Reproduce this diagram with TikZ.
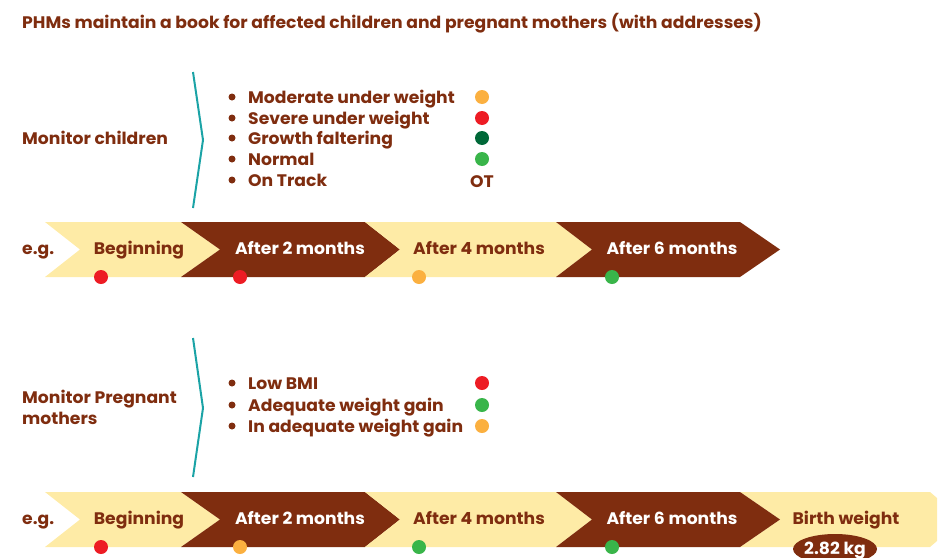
\documentclass[tikz,border=0pt]{standalone}
\usepackage{fontspec}
\usetikzlibrary{shapes.geometric}
\setmainfont{Poppins}[UprightFont={* Bold},FakeStretch=1.03]
\definecolor{brn}{HTML}{7F2D0F}
\definecolor{lyel}{HTML}{FEEBA6}
\definecolor{cred}{HTML}{ED1C24}
\definecolor{corg}{HTML}{FBB040}
\definecolor{cdgr}{HTML}{006838}
\definecolor{cgrn}{HTML}{39B54A}
\definecolor{cteal}{HTML}{1BA3A6}
\begin{document}
\begin{tikzpicture}[x=1pt,y=-1pt,
  lbl/.style={font=\fontsize{16.7}{21}\selectfont, text=brn, inner sep=0pt, anchor=base},
  wlbl/.style={lbl, text=white},
  item/.style={lbl, anchor=base west},
  dot/.style={circle, inner sep=0pt, minimum size=14pt},
  bul/.style={circle, fill=brn, inner sep=0pt, minimum size=7pt},
  brk/.style={draw=cteal, line width=2pt, line join=miter}]
\useasboundingbox (0,0) rectangle (939,557);
% title
\node[item] (title) at (22,28) {PHMs maintain a book for affected children and pregnant mothers (with addresses)};
% ===== children =====
\node[item] (mc) at (22,144) {Monitor children};
\draw[brk] (193,72) -- (203,140) -- (193,208);
\foreach \t/\y/\c [count=\i] in {Moderate under weight/97/corg, Severe under weight/118/cred, Growth faltering/138/cdgr, Normal/159/cgrn}{
  \node[bul] (cb\i) at (232,\y) {};
  \node[item] (ct\i) at (248,\y+6) {\t};
  \node[dot, fill=\c] (cd\i) at (482,\y) {};
}
\node[bul] (cb5) at (232,180) {};
\node[item] (ct5) at (248,186) {On Track};
\node[lbl] (cot) at (482,187) {OT};
% band 1
\fill[lyel] (45,222) -- (181,222) -- (220,249.5) -- (181,277) -- (45,277) -- (80,249.5) -- cycle;
\fill[brn] (181,222) -- (365,222) -- (400,249.5) -- (365,277) -- (181,277) -- (220,249.5) -- cycle;
\fill[lyel] (365,222) -- (556,222) -- (592,249.5) -- (556,277) -- (365,277) -- (400,249.5) -- cycle;
\fill[brn] (556,222) -- (740,222) -- (780,249.5) -- (740,277) -- (556,277) -- (592,249.5) -- cycle;
\node[item] (eg1) at (22,254) {e.g.};
\node[lbl] (a1) at (139,254) {Beginning};
\node[wlbl] (a2) at (300,254) {After 2 months};
\node[lbl] (a3) at (479,254) {After 4 months};
\node[wlbl] (a4) at (672,254) {After 6 months};
\node[dot, fill=cred] (ad1) at (101,277) {};
\node[dot, fill=cred] (ad2) at (240,277) {};
\node[dot, fill=corg] (ad3) at (419,277) {};
\node[dot, fill=cgrn] (ad4) at (612,277) {};
% ===== pregnant =====
\node[item] (mp1) at (22,403) {Monitor Pregnant};
\node[item] (mp2) at (22,424) {mothers};
\draw[brk] (193,338) -- (203,408) -- (193,477);
\foreach \t/\y/\c [count=\i] in {Low BMI/383/cred, Adequate weight gain/405/cgrn, In adequate weight gain/426/corg}{
  \node[bul] (pb\i) at (232,\y) {};
  \node[item] (pt\i) at (248,\y+6) {\t};
  \node[dot, fill=\c] (pd\i) at (482,\y) {};
}
% band 2
\fill[lyel] (740,492) -- (930,492) -- (937,498) -- (937,541) -- (930,547) -- (740,547) -- (780,519.5) -- cycle;
\fill[lyel] (45,492) -- (181,492) -- (220,519.5) -- (181,547) -- (45,547) -- (80,519.5) -- cycle;
\fill[brn] (181,492) -- (365,492) -- (400,519.5) -- (365,547) -- (181,547) -- (220,519.5) -- cycle;
\fill[lyel] (365,492) -- (556,492) -- (592,519.5) -- (556,547) -- (365,547) -- (400,519.5) -- cycle;
\fill[brn] (556,492) -- (740,492) -- (780,519.5) -- (740,547) -- (556,547) -- (592,519.5) -- cycle;
\node[item] (eg2) at (22,524) {e.g.};
\node[lbl] (b1) at (139,524) {Beginning};
\node[wlbl] (b2) at (300,524) {After 2 months};
\node[lbl] (b3) at (479,524) {After 4 months};
\node[wlbl] (b4) at (672,524) {After 6 months};
\node[lbl] (b5) at (846,524) {Birth weight};
\node[dot, fill=cred] (bd1) at (101,547) {};
\node[dot, fill=corg] (bd2) at (240,547) {};
\node[dot, fill=cgrn] (bd3) at (419,547) {};
\node[dot, fill=cgrn] (bd4) at (612,547) {};
\fill[brn] (835,549) ellipse [x radius=42, y radius=15];
\node[wlbl] (bw) at (835,554) {2.82 kg};
\end{tikzpicture}
\end{document}
